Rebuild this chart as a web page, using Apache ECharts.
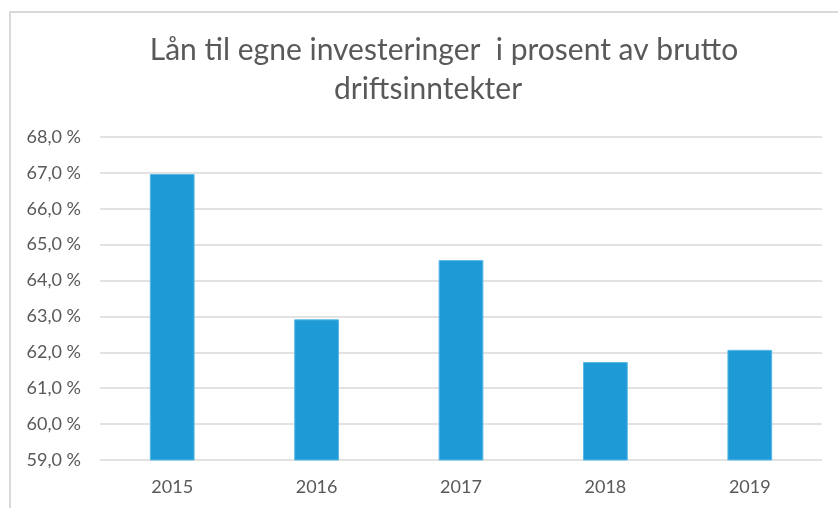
<!DOCTYPE html>
<html>
<head>
<meta charset="utf-8">
<script src="https://cdn.jsdelivr.net/npm/echarts@6/dist/echarts.min.js"></script>
<style>
    html, body { margin: 0; padding: 0; background: #fff; }
    #chart { width: 838px; height: 508px; }
</style>
</head>
<body>
<div id="chart"></div>
<script>
const years = ['2015', '2016', '2017', '2018', '2019'];
const shareOfIncome = [66.97, 62.92, 64.57, 61.73, 62.07];
const yMin = 59;
const yMax = 68;
const yStep = 1;
const titleLines = ['Lån til egne investeringer  i prosent av brutto', 'driftsinntekter'];

const titleStyle = {
    fontFamily: 'Lato',
    fontWeight: 'normal',
    fontSize: 30,
    lineHeight: 30,
    color: '#595959'
};

const chart = echarts.init(document.getElementById('chart'));

chart.setOption({
    backgroundColor: '#fff',
    animation: false,
    textStyle: { fontFamily: 'Lato' },
    // Excel wraps the title in two lines, each centred a bit differently
    title: [
        {
            text: titleLines[0],
            left: 444,
            top: 35,
            padding: 0,
            textAlign: 'center',
            textStyle: titleStyle
        },
        {
            text: titleLines[1],
            left: 428,
            top: 74,
            padding: 0,
            textAlign: 'center',
            textStyle: titleStyle
        }
    ],
    graphic: [
        {
            type: 'rect',
            shape: { x: 10, y: 12, width: 900, height: 600 },
            style: { fill: 'none', stroke: '#d9d9d9', lineWidth: 2 },
            silent: true
        }
    ],
    grid: {
        left: 100,
        right: 16,
        top: 137,
        bottom: 48
    },
    xAxis: {
        type: 'category',
        data: years,
        axisLine: { show: false },
        axisTick: { show: false },
        axisLabel: {
            color: '#595959',
            fontSize: 18,
            margin: 18
        }
    },
    yAxis: {
        type: 'value',
        min: yMin,
        max: yMax,
        interval: yStep,
        axisLine: { show: false },
        axisTick: { show: false },
        axisLabel: {
            color: '#595959',
            fontSize: 18,
            margin: 19,
            formatter: (v) => v.toFixed(1).replace('.', ',') + ' %'
        },
        splitLine: {
            lineStyle: { color: '#d9d9d9', width: 1.5 }
        }
    },
    series: [
        {
            type: 'bar',
            data: shareOfIncome,
            barWidth: '31%',
            itemStyle: {
                color: '#1e9bd7',
                borderColor: '#5ab8e6',
                borderWidth: 1
            }
        }
    ]
});
</script>
</body>
</html>
